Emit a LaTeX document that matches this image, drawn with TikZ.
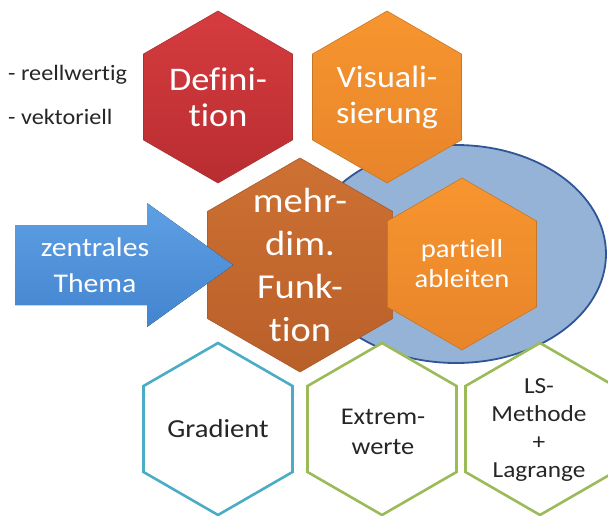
\documentclass[tikz,border=0pt]{standalone}
\usepackage{fontspec}
\setmainfont{Carlito}[FakeStretch=1.1, Ligatures=NoCommon]
\usetikzlibrary{shapes.geometric}

\definecolor{defred}{HTML}{D63C3F}
\definecolor{defreddark}{HTML}{B82D31}
\definecolor{visorange}{HTML}{F7952F}
\definecolor{visorangedark}{HTML}{E8842A}
\definecolor{funkbrown}{HTML}{CD7133}
\definecolor{funkbrowndark}{HTML}{B95F29}
\definecolor{pfeilblue}{HTML}{5EA0E4}
\definecolor{pfeilbluedark}{HTML}{4384CF}
\definecolor{ovalfill}{HTML}{95B3D7}
\definecolor{ovalline}{HTML}{2F5597}
\definecolor{gradcyan}{HTML}{4BACC6}
\definecolor{extgreen}{HTML}{9BBB59}
\definecolor{textgray}{HTML}{262626}

\begin{document}
\begin{tikzpicture}[x=1pt, y=-1pt,
    hexa/.style={regular polygon, regular polygon sides=6, shape border rotate=30,
        minimum size=172pt, inner sep=0pt},
    hexfull/.style={hexa, draw=#1!80!black, line width=0.6pt},
    hexline/.style={hexa, draw=#1, fill=white, line width=2.6pt},
    whitetxt/.style={text=white, align=center, inner sep=0pt},
    blacktxt/.style={text=textgray, align=center, inner sep=0pt}]
    \useasboundingbox (0,0) rectangle (608,515);

    % ellipse behind everything
    \node[ellipse, fill=ovalfill, draw=ovalline, line width=1.8pt,
        minimum width=300pt, minimum height=218pt, inner sep=0pt] (oval) at (456,254) {};

    % top row
    \node[hexfull=defred, top color=defred, bottom color=defreddark] (def) at (218,97) {};
    \node[whitetxt, font=\fontsize{33}{36}\selectfont] (def-txt) at (def) {Defini-\\tion};
    \node[hexfull=visorange, top color=visorange, bottom color=visorangedark] (vis) at (387,97) {};
    \node[whitetxt, font=\fontsize{31}{36}\selectfont] (vis-txt) at (vis) {Visuali-\\sierung};

    % centre
    \node[hexfull=funkbrown, top color=funkbrown, bottom color=funkbrowndark,
        minimum size=214pt] (funk) at (300,265) {};
    \node[whitetxt, font=\fontsize{35}{43}\selectfont] (funk-txt) at (funk) {mehr-\\dim.\\Funk-\\tion};
    \node[hexfull=visorange, top color=visorange, bottom color=visorangedark] (part) at (462,264) {};
    \node[whitetxt, font=\fontsize{26}{30}\selectfont] (part-txt) at (part) {partiell\\ableiten};

    % arrow
    \fill[top color=pfeilblue, bottom color=pfeilbluedark]
        (15,225) -- (147,225) -- (147,203) -- (233,265) -- (147,327) -- (147,305) -- (15,305) -- cycle;
    \node[whitetxt, font=\fontsize{27}{36}\selectfont] (thema) at (95,265) {zentrales\\Thema};

    % bottom row
    \node[hexline=gradcyan] (grad) at (218,429) {};
    \node[blacktxt, font=\fontsize{26}{30}\selectfont] (grad-txt) at (grad) {Gradient};
    \node[hexline=extgreen] (ext) at (382,429) {};
    \node[blacktxt, font=\fontsize{24}{30}\selectfont] (ext-txt) at (383,432) {Extrem-\\werte};
    \node[hexline=extgreen] (ls) at (540,429) {};
    \node[blacktxt, font=\fontsize{23}{28}\selectfont] (ls-txt) at (539,430) {LS-\\Methode\\+\\Lagrange};

    % side notes
    \node[blacktxt, anchor=west, font=\fontsize{22}{24}\selectfont] (reell) at (8,75) {- reellwertig};
    \node[blacktxt, anchor=west, font=\fontsize{22}{24}\selectfont] (vekt) at (8,117) {- vektoriell};
\end{tikzpicture}
\end{document}
